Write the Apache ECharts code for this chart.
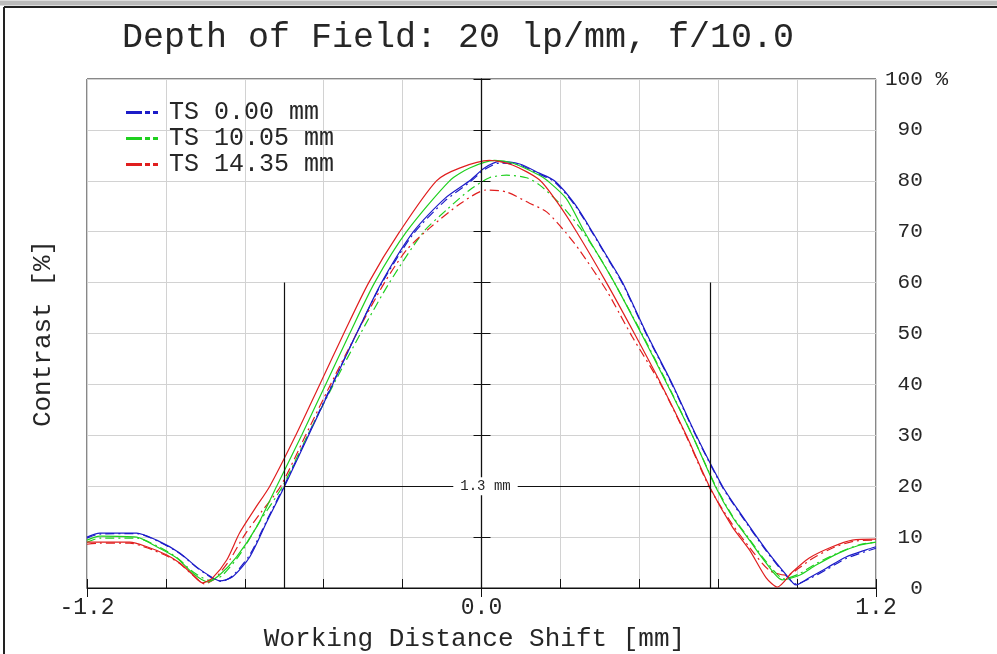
<!DOCTYPE html>
<html><head><meta charset="utf-8">
<script src="https://cdn.jsdelivr.net/npm/echarts@6/dist/echarts.min.js"></script>
<style>html,body{margin:0;padding:0;background:#fff}#c{width:997px;height:654px}</style>
</head><body><div id="c"></div>
<script>
// ---------- data ----------
const chartTitle = 'Depth of Field: 20 lp/mm, f/10.0';
const seriesNames = ['TS 0.00 mm', 'TS 10.05 mm', 'TS 14.35 mm'];
const seriesColors = ['#1c1cc8', '#1fd01f', '#e01e1e'];
const xAxisTitle = 'Working Distance Shift [mm]';
const yAxisTitle = 'Contrast [%]';
const xMin = -1.2, xMax = 1.2, xGrid = 0.24, xLabelStep = 1.2;
const yMin = 0, yMax = 100, yStep = 10;

// TS 0.00 mm (solid = tangential, dash-dot = sagittal)
const blueSolid = [[-1.2,10.0],[-1.161,10.8],[-1.049,10.8],[-0.988,9.4],[-0.918,6.9],[-0.866,4.1],[-0.818,2.0],[-0.796,1.4],[-0.757,2.2],[-0.705,6.1],[-0.653,13.0],[-0.599,20.0],[-0.526,30.0],[-0.453,40.0],[-0.380,50.0],[-0.304,60.0],[-0.207,70.0],[-0.112,76.5],[-0.036,80.0],[0.009,82.5],[0.055,83.8],[0.116,83.3],[0.176,81.5],[0.222,80.0],[0.283,75.5],[0.337,70.0],[0.383,65.0],[0.429,60.0],[0.502,50.0],[0.581,40.0],[0.653,30.0],[0.733,20.0],[0.784,15.0],[0.866,7.5],[0.927,2.6],[0.957,0.6],[0.997,2.0],[1.049,3.9],[1.109,6.1],[1.170,7.5],[1.2,8.1]];
const blueDash = [[-1.2,9.8],[-1.161,10.6],[-1.049,10.7],[-0.988,9.3],[-0.918,6.8],[-0.866,4.0],[-0.818,1.9],[-0.790,1.3],[-0.757,2.4],[-0.705,6.5],[-0.653,13.3],[-0.599,20.3],[-0.526,30.3],[-0.453,40.2],[-0.380,50.0],[-0.304,59.8],[-0.207,69.6],[-0.112,76.0],[-0.036,79.7],[0.009,82.2],[0.055,83.5],[0.116,83.1],[0.176,81.3],[0.222,79.8],[0.283,75.3],[0.337,69.8],[0.383,64.8],[0.429,59.8],[0.502,49.8],[0.581,39.8],[0.653,29.8],[0.733,19.8],[0.784,14.8],[0.866,7.3],[0.927,2.4],[0.957,0.8],[0.997,1.8],[1.049,3.6],[1.109,5.8],[1.170,7.2],[1.2,7.8]];
// TS 10.05 mm
const greenSolid = [[-1.2,9.4],[-1.161,10.2],[-1.049,10.0],[-0.988,8.1],[-0.927,5.9],[-0.878,2.9],[-0.833,1.2],[-0.796,2.6],[-0.745,6.1],[-0.684,12.0],[-0.623,20.0],[-0.547,30.0],[-0.474,40.0],[-0.401,50.0],[-0.325,60.0],[-0.228,70.0],[-0.097,80.0],[-0.036,82.5],[0.040,84.0],[0.094,83.5],[0.176,81.1],[0.201,80.0],[0.258,76.5],[0.313,70.0],[0.404,60.0],[0.486,50.0],[0.565,40.0],[0.641,30.0],[0.711,20.0],[0.763,14.0],[0.815,9.4],[0.866,4.9],[0.915,1.6],[0.967,2.5],[1.018,4.5],[1.088,6.9],[1.149,8.4],[1.2,9.0]];
const greenDash = [[-1.2,9.0],[-1.161,9.8],[-1.049,9.8],[-0.988,8.3],[-0.927,6.0],[-0.878,3.2],[-0.827,1.5],[-0.790,2.4],[-0.736,6.5],[-0.675,13.0],[-0.605,20.0],[-0.529,30.0],[-0.450,40.0],[-0.368,50.0],[-0.280,60.0],[-0.176,70.0],[-0.106,74.3],[-0.036,78.2],[0.024,80.6],[0.076,81.1],[0.137,80.6],[0.176,79.2],[0.237,75.6],[0.298,70.9],[0.359,65.0],[0.404,60.0],[0.486,50.2],[0.565,40.2],[0.641,30.0],[0.711,20.2],[0.763,14.2],[0.815,9.6],[0.866,5.2],[0.921,1.8],[0.967,2.8],[1.018,4.8],[1.088,7.0],[1.149,8.5],[1.2,9.0]];
// TS 14.35 mm
const redSolid = [[-1.2,9.0],[-1.161,9.0],[-1.070,9.0],[-1.018,8.1],[-0.957,6.5],[-0.918,4.9],[-0.878,2.6],[-0.848,1.0],[-0.818,2.0],[-0.775,5.5],[-0.736,10.8],[-0.690,15.5],[-0.644,20.0],[-0.565,30.0],[-0.492,40.0],[-0.419,50.0],[-0.343,60.0],[-0.249,70.0],[-0.137,80.0],[-0.067,82.5],[0.024,84.0],[0.094,83.1],[0.176,80.2],[0.228,76.0],[0.289,70.0],[0.380,60.0],[0.465,50.0],[0.547,40.0],[0.623,30.0],[0.693,20.0],[0.763,12.0],[0.815,7.5],[0.866,2.0],[0.900,0.2],[0.945,3.1],[0.997,5.9],[1.067,8.1],[1.128,9.4],[1.2,9.6]];
const redDash = [[-1.2,8.6],[-1.161,8.8],[-1.070,8.8],[-1.018,7.9],[-0.957,6.3],[-0.918,4.8],[-0.878,2.5],[-0.842,0.8],[-0.812,1.8],[-0.766,5.5],[-0.720,10.5],[-0.669,15.0],[-0.611,20.0],[-0.535,30.0],[-0.459,40.0],[-0.380,50.0],[-0.295,60.0],[-0.228,66.4],[-0.158,70.7],[-0.058,75.8],[0.015,78.2],[0.076,77.8],[0.146,75.6],[0.198,73.9],[0.258,69.7],[0.298,66.4],[0.380,58.5],[0.419,54.0],[0.459,49.3],[0.547,39.8],[0.623,29.8],[0.693,19.8],[0.763,12.5],[0.815,8.0],[0.875,3.5],[0.930,2.5],[0.967,4.0],[1.012,6.0],[1.073,8.0],[1.134,9.2],[1.2,9.4]];

// depth-of-field marker
const dofLimits = [-0.599, 0.696];
const dofLevel = 20;
const dofTop = 60;
const dofText = '1.3 mm';

// ---------- chart ----------
const FONT = 'Liberation Mono';
const TXT = '#262626';
const dashPattern = [9, 4, 2, 4];
const legendIconPath = 'path://M0,0h16v3h-16z M19,0h5v3h-5z M27,0h5v3h-5z';
const chart = echarts.init(document.getElementById('c'));

const curves = [
  {name: seriesNames[0], color: seriesColors[0], data: blueDash, dash: true},
  {name: seriesNames[1], color: seriesColors[1], data: greenDash, dash: true},
  {name: seriesNames[2], color: seriesColors[2], data: redDash, dash: true},
  {name: seriesNames[0], color: seriesColors[0], data: blueSolid, dash: false},
  {name: seriesNames[1], color: seriesColors[1], data: greenSolid, dash: false},
  {name: seriesNames[2], color: seriesColors[2], data: redSolid, dash: false}
];

const series = curves.map(c => ({
  type: 'line', name: c.name, data: c.data, symbol: 'none', showSymbol: false, smooth: 0.25,
  z: 3, silent: true, color: c.color,
  lineStyle: {color: c.color, width: 1.2, type: c.dash ? dashPattern : 'solid'}
}));

// DOF marker lines
series.push({
  type: 'line', data: [], silent: true, z: 4,
  markLine: {
    symbol: 'none', silent: true, animation: false,
    lineStyle: {color: '#111', width: 1.2, type: 'solid'},
    label: {show: false},
    data: [
      [{coord: [dofLimits[0], yMin]}, {coord: [dofLimits[0], dofTop]}],
      [{coord: [dofLimits[1], yMin]}, {coord: [dofLimits[1], dofTop]}],
      [{coord: [dofLimits[0], dofLevel]}, {coord: [dofLimits[1], dofLevel]}]
    ]
  },
  markPoint: {
    symbol: 'rect', symbolSize: 0, silent: true, animation: false,
    label: {show: true, formatter: dofText, fontFamily: FONT, fontSize: 14, color: TXT,
            backgroundColor: '#fff', padding: [2, 7, 2, 7], offset: [4, 0]},
    data: [{coord: [0, dofLevel]}]
  }
});
// centre (best focus) line
series.push({
  type: 'line', data: [], silent: true, z: 6,
  markLine: {
    symbol: 'none', silent: true, animation: false,
    lineStyle: {color: '#111', width: 1.3, type: 'solid'},
    label: {show: false},
    data: [{xAxis: 0}]
  }
});

const option = {
  animation: false,
  backgroundColor: '#fff',
  title: {
    text: chartTitle, left: 117, top: 15,
    textStyle: {fontFamily: FONT, fontSize: 35, fontWeight: 'normal', color: TXT}
  },
  legend: {
    orient: 'vertical', left: 121, top: 95, itemWidth: 32, itemHeight: 3, itemGap: 1,
    icon: legendIconPath,
    textStyle: {fontFamily: FONT, fontSize: 25, color: TXT, padding: [0, 0, 0, 6]},
    data: seriesNames.map((n, i) => ({name: n, icon: legendIconPath,
      itemStyle: {color: seriesColors[i], borderWidth: 0}})),
    selectedMode: false
  },
  grid: {left: 87, right: 121, top: 79, bottom: 66, outerBoundsMode: 'none', containLabel: false,
         show: true, borderColor: '#111', borderWidth: 1},
  xAxis: [
    {
      type: 'value', min: xMin, max: xMax, interval: xGrid, position: 'bottom',
      axisLine: {show: true, lineStyle: {color: '#111', width: 1}},
      axisTick: {show: true, inside: true, length: 9, lineStyle: {color: '#111'}},
      axisLabel: {show: false},
      splitLine: {show: true, lineStyle: {color: '#d2d2d2', width: 1}}
    },
    {
      type: 'value', min: xMin, max: xMax, interval: xLabelStep, position: 'bottom',
      axisLine: {show: false},
      axisTick: {show: true, inside: false, length: 9, lineStyle: {color: '#111'}},
      axisLabel: {show: true, margin: 8, fontFamily: FONT, fontSize: 23, color: TXT,
                  formatter: v => v.toFixed(1)},
      splitLine: {show: false},
      name: xAxisTitle, nameLocation: 'middle', nameGap: 38,
      nameTextStyle: {fontFamily: FONT, fontSize: 26, color: TXT, padding: [0, 14, 0, 0]}
    }
  ],
  yAxis: [
    {
      type: 'value', min: yMin, max: yMax, interval: yStep, position: 'left',
      axisLine: {show: true, lineStyle: {color: '#111'}},
      axisTick: {show: true, inside: true, length: 9, lineStyle: {color: '#111'}},
      axisLabel: {show: false},
      splitLine: {show: true, lineStyle: {color: '#d2d2d2', width: 1}},
      name: yAxisTitle, nameLocation: 'middle', nameGap: 31, nameRotate: 90,
      nameTextStyle: {fontFamily: FONT, fontSize: 26, color: TXT}
    },
    {
      type: 'value', min: yMin, max: yMax, interval: yStep, position: 'right',
      axisLine: {show: true, lineStyle: {color: '#111'}},
      axisTick: {show: true, inside: true, length: 8, lineStyle: {color: '#111'}},
      axisLabel: {show: true, margin: 9, align: 'left', fontFamily: FONT, fontSize: 21, color: TXT,
                  formatter: v => String(v).padStart(3, '\u00a0') + (v === yMax ? ' %' : '')},
      splitLine: {show: false}
    }
  ],
  graphic: [
    {type: 'line', silent: true, shape: {x1: 0, y1: 3, x2: 997, y2: 3}, style: {stroke: '#bbb', lineWidth: 5}},
    {type: 'line', silent: true, shape: {x1: 4, y1: 7, x2: 997, y2: 7}, style: {stroke: '#222', lineWidth: 2}},
    {type: 'line', silent: true, shape: {x1: 4, y1: 7, x2: 4, y2: 654}, style: {stroke: '#222', lineWidth: 2}}
  ],
  series: series
};
chart.setOption(option);
</script>
</body></html>
